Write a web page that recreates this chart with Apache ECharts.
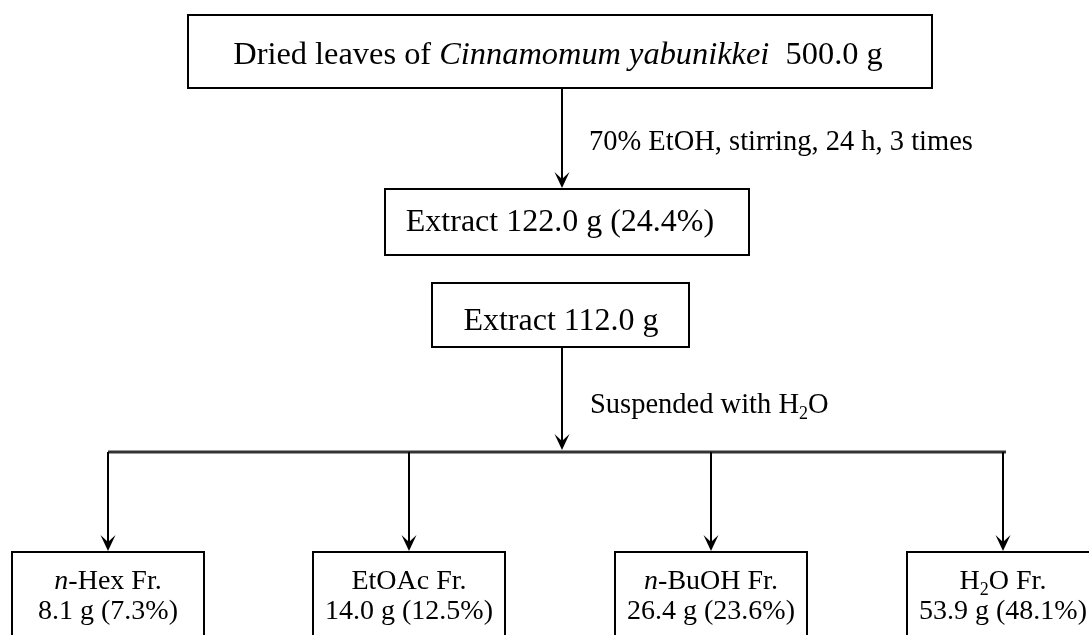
<!DOCTYPE html>
<html>
<head>
<meta charset="utf-8">
<script src="https://cdn.jsdelivr.net/npm/echarts@6/dist/echarts.min.js"></script>
<style>
  html, body { margin: 0; padding: 0; background: #fff; }
  #main { width: 1089px; height: 635px; }
</style>
</head>
<body>
<div id="main"></div>
<script>
// 原料和提取步骤
const sampleName = 'Cinnamomum yabunikkei';
const sampleMass = 500.0;
const extractMass = 122.0;
const extractYield = 24.4;
const partitionMass = 112.0;
const stepNotes = ['70% EtOH, stirring, 24 h, 3 times', 'Suspended with H2O'];
// 分配萃取得到的各部位
const fractionNames = ['n-Hex', 'EtOAc', 'n-BuOH', 'H2O'];
const fractionMass = [8.1, 14.0, 26.4, 53.9];
const fractionYield = [7.3, 12.5, 23.6, 48.1];

// 画布坐标(隐藏的坐标轴, 像素单位)
const W = 1089, H = 635;
const FONT = '"Liberation Serif", "Times New Roman", serif';
const trunkX = 562;
const splitY = 452;
const colX = [108, 409, 711, 1003];
const fracW = 192;

// 斜体 n 和下标 2
function fmt(str) {
    return str.replace(/^n-/, '{it|n}-').replace('H2O', 'H{sub|2}O');
}
function richFor(size, subSize) {
    return {
        it: { fontSize: size, fontFamily: FONT, fontStyle: 'italic', fill: '#000' },
        // 下标: 缩小高度并贴底, 使数字落到基线以下
        sub: { fontSize: subSize, fontFamily: FONT, fill: '#000', height: Math.round(size * 0.4), verticalAlign: 'bottom' }
    };
}

// 方框
let boxes = [
    { x0: 188, x1: 932, y0: 15, y1: 88, size: 32.4, cx: 558,
      lines: [['Dried leaves of {it|' + sampleName + '}  ' + sampleMass.toFixed(1) + ' g', 55]] },
    { x0: 385, x1: 749, y0: 189, y1: 255, size: 32, cx: 560,
      lines: [['Extract ' + extractMass.toFixed(1) + ' g (' + extractYield.toFixed(1) + '%)', 223]] },
    { x0: 432, x1: 689, y0: 283, y1: 347, size: 32, cx: 561,
      lines: [['Extract ' + partitionMass.toFixed(1) + ' g', 322]] }
];
fractionNames.forEach(function (name, i) {
    boxes.push({
        x0: colX[i] - fracW / 2, x1: colX[i] + fracW / 2, y0: 552, y1: 700, size: 28, cx: colX[i],
        lines: [
            [fmt(name) + ' Fr.', 582],
            [fractionMass[i].toFixed(1) + ' g (' + fractionYield[i].toFixed(1) + '%)', 612]
        ]
    });
});

// 箭头
let arrows = [
    { x: trunkX, y0: 88, y1: 188 },
    { x: trunkX, y0: 347, y1: 450 }
];
colX.forEach(function (x) {
    arrows.push({ x: x, y0: splitY, y1: 551 });
});

// 箭头旁的说明
let notes = [
    { x: 589, y: 143, text: stepNotes[0] },
    { x: 590, y: 406, text: fmt(stepNotes[1]) }
];

function renderBox(params, api) {
    let b = boxes[params.dataIndex];
    let p0 = api.coord([b.x0, b.y0]);
    let p1 = api.coord([b.x1, b.y1]);
    let children = [{
        type: 'rect',
        shape: { x: p0[0], y: p0[1], width: p1[0] - p0[0], height: p1[1] - p0[1] },
        style: { fill: '#fff', stroke: '#000', lineWidth: 2 }
    }];
    b.lines.forEach(function (ln) {
        let c = api.coord([b.cx, ln[1]]);
        children.push({
            type: 'text', x: c[0], y: c[1],
            style: {
                text: ln[0], fontSize: b.size, fontFamily: FONT, fill: '#000',
                lineHeight: b.size, align: 'center', verticalAlign: 'middle',
                rich: richFor(b.size, Math.round(b.size * 0.65))
            }
        });
    });
    return { type: 'group', children: children };
}

function renderArrow(params, api) {
    let a = arrows[params.dataIndex];
    let s = api.coord([a.x, a.y0]);
    let t = api.coord([a.x, a.y1]);
    return {
        type: 'group',
        children: [{
            type: 'line',
            shape: { x1: s[0], y1: s[1], x2: t[0], y2: t[1] - 6 },
            style: { stroke: '#000', lineWidth: 2 }
        }, {
            type: 'polygon',
            shape: { points: [[t[0], t[1]], [t[0] - 7.5, t[1] - 16], [t[0], t[1] - 9], [t[0] + 7.5, t[1] - 16]] },
            style: { fill: '#000' }
        }]
    };
}

function renderSplit(params, api) {
    let a = api.coord([colX[0], splitY]);
    let b = api.coord([colX[colX.length - 1] + 3, splitY]);
    return {
        type: 'line',
        shape: { x1: a[0], y1: a[1], x2: b[0], y2: b[1] },
        style: { stroke: '#333', lineWidth: 3 }
    };
}

function renderNote(params, api) {
    let n = notes[params.dataIndex];
    let c = api.coord([n.x, n.y]);
    return {
        type: 'text', x: c[0], y: c[1],
        style: {
            text: n.text, fontSize: 28.5, fontFamily: FONT, fill: '#000',
            lineHeight: 28, align: 'left', verticalAlign: 'middle',
            rich: richFor(28, 18)
        }
    };
}

let myChart = echarts.init(document.getElementById('main'));
let option = {
    animation: false,
    backgroundColor: '#fff',
    grid: { left: 0, right: 0, top: 0, bottom: 0 },
    xAxis: { type: 'value', min: 0, max: W, show: false },
    yAxis: { type: 'value', min: 0, max: H, inverse: true, show: false },
    series: [
        { type: 'custom', silent: true, renderItem: renderSplit, data: [[0, 0]] },
        { type: 'custom', silent: true, renderItem: renderArrow, data: arrows.map(function (a, i) { return [i, 0]; }) },
        { type: 'custom', silent: true, renderItem: renderBox, data: boxes.map(function (b, i) { return [i, 0]; }) },
        { type: 'custom', silent: true, renderItem: renderNote, data: notes.map(function (n, i) { return [i, 0]; }) }
    ]
};
myChart.setOption(option);
</script>
</body>
</html>
